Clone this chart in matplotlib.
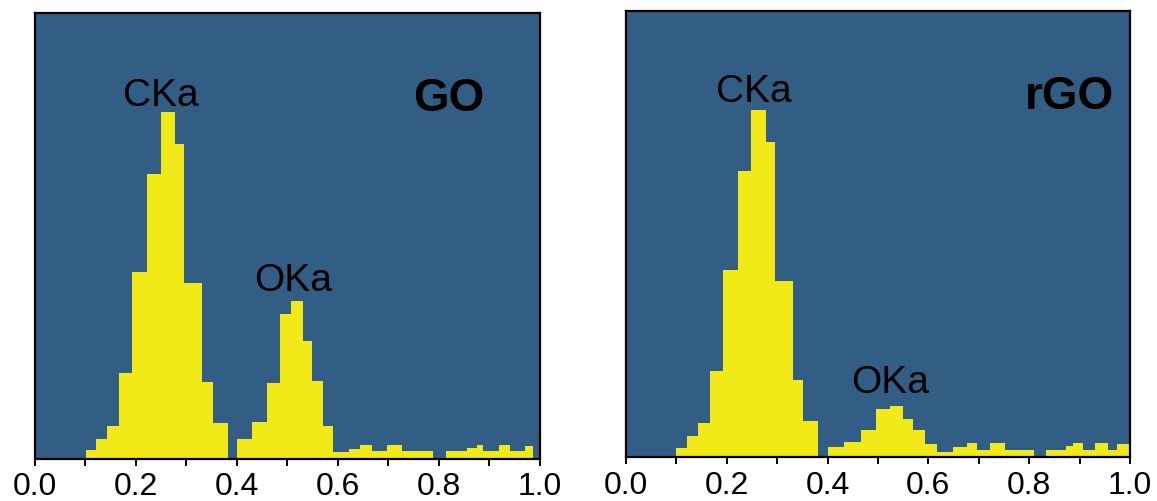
import numpy as np
import matplotlib as mpl
import matplotlib.pyplot as plt
from matplotlib.ticker import MultipleLocator

# GO spectrum (bin edges in keV-like normalised units, counts per bin)
GO_EDGES = [0.101, 0.121, 0.142, 0.166, 0.192, 0.222, 0.249, 0.278, 0.296, 0.331,
            0.352, 0.382, 0.401, 0.430, 0.459, 0.485, 0.507, 0.530, 0.549, 0.570,
            0.591, 0.622, 0.644, 0.667, 0.698, 0.726, 0.789, 0.813, 0.855, 0.875,
            0.888, 0.918, 0.941, 0.970, 0.987]
GO_COUNTS = [9, 20, 33, 86, 187, 285, 347, 315, 176, 77,
             36, 0, 20, 37, 76, 145, 158, 118, 78, 33,
             7, 10, 14, 8, 14, 8, 1, 8, 11, 14,
             8, 14, 8, 13]

# rGO spectrum
RGO_EDGES = [0.100, 0.121, 0.142, 0.166, 0.192, 0.222, 0.249, 0.278, 0.296, 0.331,
             0.352, 0.382, 0.401, 0.433, 0.466, 0.496, 0.524, 0.549, 0.569, 0.593,
             0.617, 0.649, 0.676, 0.696, 0.722, 0.752, 0.810, 0.833, 0.873, 0.888,
             0.907, 0.931, 0.957, 0.975, 1.000]
RGO_COUNTS = [9, 21, 34, 86, 187, 286, 347, 315, 176, 77,
              36, 0, 10, 15, 27, 48, 51, 38, 27, 13,
              5, 10, 14, 7, 14, 7, 0, 7, 11, 14,
              7, 14, 7, 13]

PANELS = [
    ('GO',  GO_EDGES,  GO_COUNTS,  (0.250, 346), (0.511, 161), (0.820, 361)),
    ('rGO', RGO_EDGES, RGO_COUNTS, (0.254, 348), (0.524, 57),  (0.879, 361)),
]

C_BG = '#325E85'
C_BAR = '#F2EA18'

mpl.rcParams.update({
    'font.family': ['Liberation Sans', 'DejaVu Sans'],
    'axes.linewidth': 1.6,
    'xtick.major.width': 1.4,
    'xtick.minor.width': 1.4,
    'xtick.major.size': 5,
    'xtick.minor.size': 5,
    'xtick.direction': 'out',
})

fig = plt.figure(figsize=(11.57, 5.02), dpi=100)
boxes = [
    [0.0302, 0.0837, 0.4365, 0.888],
    [0.5410, 0.0876, 0.4356, 0.888],
]

for (name, edges, counts, ck_pos, ok_pos, name_pos), box in zip(PANELS, boxes):
    ax = fig.add_axes(box)
    ax.set_facecolor(C_BG)
    ax.stairs(counts, edges, fill=True, color=C_BAR, linewidth=0, zorder=2)

    ax.set_xlim(0, 1.0)
    ax.set_ylim(0, 446)
    ax.xaxis.set_major_locator(MultipleLocator(0.2))
    ax.xaxis.set_minor_locator(MultipleLocator(0.1))
    ax.set_xticks(np.arange(0, 1.01, 0.2))
    ax.set_xticklabels([f'{v:.1f}' for v in np.arange(0, 1.01, 0.2)])
    ax.tick_params(axis='x', labelsize=23, pad=4, colors='black')
    ax.set_yticks([])
    for sp in ax.spines.values():
        sp.set_color('black')

    ax.text(ck_pos[0], ck_pos[1], 'CKa', fontsize=28, ha='center', va='bottom')
    ax.text(ok_pos[0], ok_pos[1], 'OKa', fontsize=28, ha='center', va='bottom')
    ax.text(name_pos[0], name_pos[1], name, fontsize=33, fontweight='bold',
            ha='center', va='center')

fig.savefig('out.png', dpi=100)
